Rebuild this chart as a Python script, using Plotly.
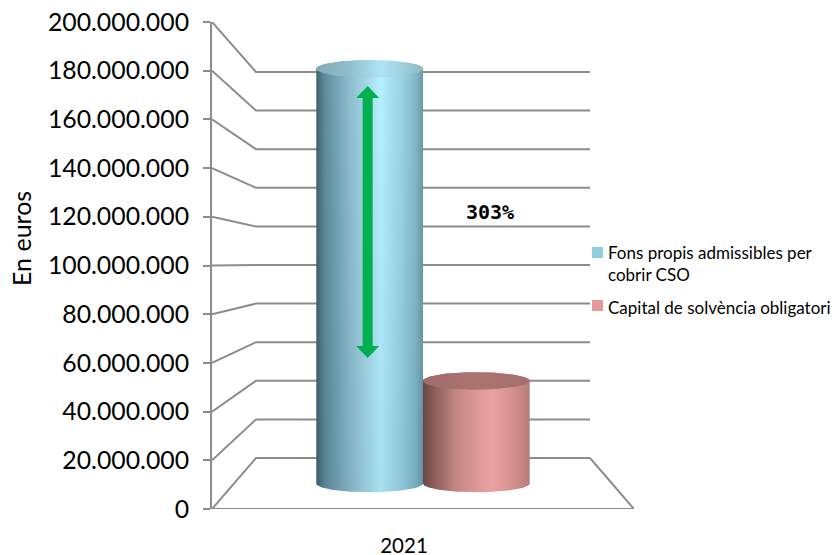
import numpy as np
import plotly.graph_objects as go

years = ["2021"]
series_names = ["Fons propis admissibles per<br>cobrir CSO", "Capital de solvència obligatori"]
series_colors = ["#92cddc", "#e19a98"]
series_values = [190000000, 47000000]
tick_values = list(range(0, 200000001, 20000000))
tick_labels = ["0"] + [f"{v:,}".replace(",", ".") for v in tick_values[1:]]
ratio_label = "303%"
arrow_range = [62000000, 173700000]

W, H = 836, 555
L, R, T, B = 212, 634, 22, 509          # plot area in px
SHRINK_X = 88 / 422                     # perspective narrowing of the back wall
SHIFT_Y = (509 - 458) / 487 * 200e6     # depth shift of floor in y units
BACK = 386 / 487                        # scale of the back wall

def proj(x, v, depth):
    return 0.5 + (x - 0.5) * (1 - depth * SHRINK_X), depth * SHIFT_Y + v * (1 - depth * (1 - BACK))

GRID = "#8c8c8c"
fig = go.Figure()

# wall / floor lines
gx, gy = [], []
for v in tick_values:
    a = proj(0, v, 0); b = proj(0, v, 1); c = proj(1, v, 1)
    gx += [a[0], b[0], c[0], None]; gy += [a[1], b[1], c[1], None]
a = proj(1, 0, 1); b = proj(1, 0, 0)
gx += [a[0], b[0], None, 0, 1]; gy += [a[1], b[1], None, 0, 0]
fig.add_trace(go.Scatter(x=gx, y=gy, mode="lines", line=dict(color=GRID, width=2),
                         cliponaxis=False, showlegend=False, hoverinfo="skip"))

BAR_W = 0.2823
RY = 3.6e6
th = np.linspace(0, np.pi, 61)

def cylinder(x0, val, body, cap, shade):
    xl = proj(x0, 0, 0.5)[0]
    xr = proj(x0 + BAR_W, 0, 0.5)[0]
    cx, rx = (xl + xr) / 2, (xr - xl) / 2
    yb = proj(0.5, 0, 0.5)[1]
    yt = proj(0.5, val, 0.5)[1]
    px = np.concatenate([cx - rx * np.cos(th), [cx + rx], cx + rx * np.cos(th)])
    py = np.concatenate([yb - RY * np.sin(th), [yt], yt + RY * np.sin(th)])
    fig.add_trace(go.Scatter(x=px, y=py, mode="lines", line=dict(width=0), fill="toself",
        fillgradient=dict(type="horizontal", colorscale=body), showlegend=False, hoverinfo="skip"))
    fig.add_trace(go.Scatter(x=px, y=py, mode="lines", line=dict(width=0), fill="toself",
        fillgradient=dict(type="vertical", colorscale=shade), showlegend=False, hoverinfo="skip"))
    t2 = np.linspace(0, 2 * np.pi, 121)
    fig.add_trace(go.Scatter(x=cx + rx * np.cos(t2), y=yt + RY * np.sin(t2), mode="lines",
        line=dict(width=0), fill="toself", fillgradient=dict(type="horizontal", colorscale=cap),
        showlegend=False, hoverinfo="skip"))
    return cx

blue = [[0, "#3e626c"], [0.08, "#5f8c9a"], [0.3, "#8abacb"], [0.45, "#a0d5e6"], [0.6, "#b6f1ff"],
        [0.8, "#99d3e4"], [0.93, "#82b9ca"], [1, "#6c9aa8"]]
blue_cap = [[0, "#86aab6"], [0.3, "#8fbccb"], [0.6, "#aee4f2"], [0.8, "#9fd0de"], [1, "#8fb6c3"]]
red = [[0, "#6b4544"], [0.1, "#8a5c5b"], [0.3, "#c08583"], [0.55, "#e29c9a"], [0.65, "#eaa2a0"],
       [0.85, "#d48f8d"], [1, "#b77b79"]]
red_cap = [[0, "#a06c6b"], [0.5, "#ab7370"], [1, "#a5706e"]]
shade_blue = [[0, "rgba(0,30,50,0.08)"], [1, "rgba(0,30,50,0)"]]
shade_red = [[0, "rgba(0,0,0,0)"], [1, "rgba(0,0,0,0)"]]

cx_blue = cylinder(0.5 - BAR_W, series_values[0], blue, blue_cap, shade_blue)
cylinder(0.5, series_values[1], red, red_cap, shade_red)

# legend (plotly keeps a wider marker gap than the reference, so swatches are drawn as shapes)
for i, name in enumerate(series_names):
    fig.add_trace(go.Scatter(x=[None], y=[None], mode="markers", name=name, legendgroup=f"g{i}",
                             marker=dict(symbol="square", size=11, color="rgba(0,0,0,0)")))

def sx(p):
    return (p - L) / (R - L)

def sy(p):
    return (B - p) / (B - T)

shapes = []
for top, col in zip([247, 300], series_colors):
    shapes.append(dict(type="rect", xref="paper", yref="paper", x0=sx(592), x1=sx(603),
                       y0=sy(top), y1=sy(top + 11), fillcolor=col, line=dict(width=0)))

# double-headed arrow
px_x = 1 / (R - L)
px_y = 200e6 / (B - T)
ax = cx_blue - 2 * px_x
lo, hi = arrow_range
sw, hw, hh = 5 * px_x, 11.5 * px_x, 12 * px_y
pts = [(ax, hi), (ax + hw, hi - hh), (ax + sw, hi - hh), (ax + sw, lo + hh), (ax + hw, lo + hh), (ax, lo),
       (ax - hw, lo + hh), (ax - sw, lo + hh), (ax - sw, hi - hh), (ax - hw, hi - hh)]
path = "M " + " L ".join(f"{a},{b}" for a, b in pts) + " Z"
shapes.append(dict(type="path", path=path, xref="x", yref="y", fillcolor="#00b050", line=dict(width=0)))

fig.update_layout(
    width=W, height=H, autosize=False,
    margin=dict(l=L, r=W - R, t=T, b=H - B, autoexpand=False),
    paper_bgcolor="white", plot_bgcolor="white",
    font=dict(family="Lato", color="#000000"),
    shapes=shapes,
    xaxis=dict(range=[0, 1], tickvals=[0.455], ticktext=years, ticks="", showgrid=False,
               zeroline=False, showline=False, tickfont=dict(size=20.5, family="Lato"),
               ticklabelstandoff=22),
    yaxis=dict(range=[0, 200e6], tickvals=tick_values, ticktext=tick_labels, ticks="outside",
               ticklen=7, tickwidth=2, tickcolor=GRID, showline=True, linecolor=GRID, linewidth=2,
               showgrid=False, zeroline=False, tickfont=dict(size=24.8, family="Lato"),
               ticklabelstandoff=9),
    legend=dict(x=sx(578), xanchor="left", y=sy(234.5), yanchor="top",
                bgcolor="rgba(0,0,0,0)", font=dict(size=17, family="Lato"), itemwidth=30,
                indentation=-10, tracegroupgap=8),
    annotations=[
        dict(x=0.659, y=122e6, text=f"<b>{ratio_label}</b>", showarrow=False,
             xref="x", yref="y", font=dict(family="DejaVu Sans Mono", size=20)),
        dict(x=sx(21), y=sy(239), xref="paper", yref="paper", text="En euros", xanchor="center",
             yanchor="middle", textangle=-90, showarrow=False, font=dict(size=25, family="Lato")),
    ],
)
fig.write_html("out.html", post_script="document.body.style.margin='0';",
               config={"displayModeBar": False})
